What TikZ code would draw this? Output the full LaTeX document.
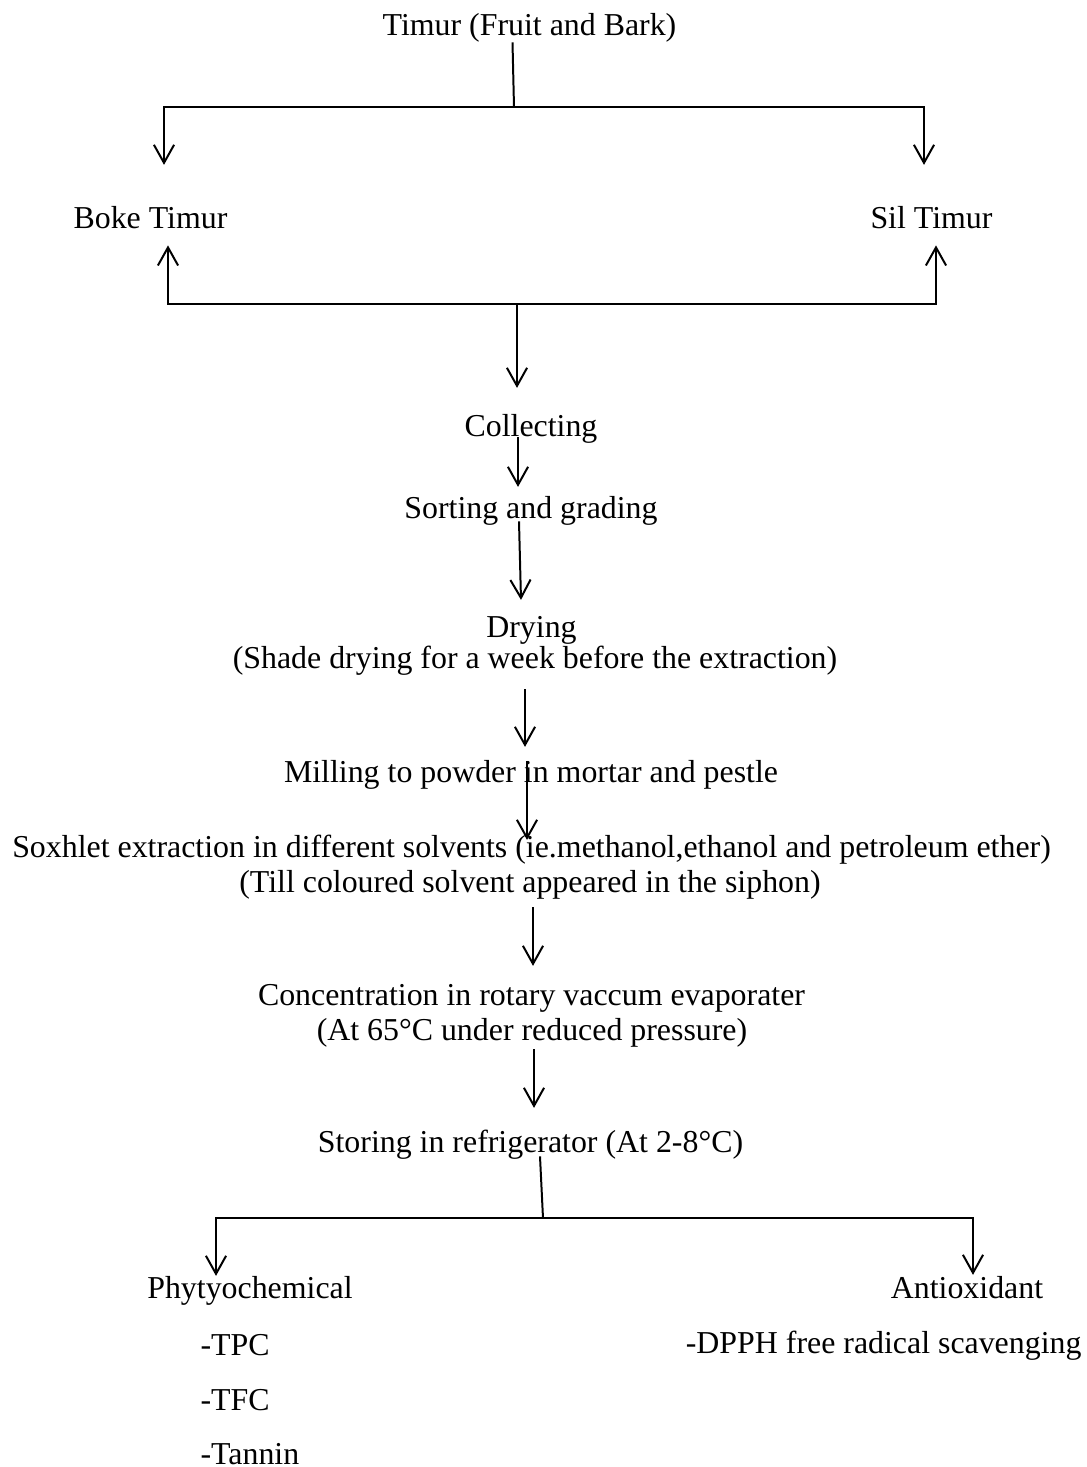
\documentclass[tikz,border=0pt]{standalone}
\usepackage{fontspec}
\setmainfont{Liberation Serif}
\usetikzlibrary{arrows.meta,calc}

\begin{document}
\begin{tikzpicture}[x=0.3765pt,y=-0.3765pt,
  txt/.style={inner sep=0pt,text height=0.7em,text depth=0.22em,anchor=base,font=\fontsize{12}{14}\selectfont},
  flow/.style={line width=0.75pt,-{Straight Barb[length=6.8pt,width=7.6pt]}},
  link/.style={line width=0.75pt}]

\useasboundingbox (0,0) rectangle (1086,1467);

\node [txt] (top) at (529.5,35) {Timur (Fruit and Bark)};
\node [txt] (boke) at (150.5,228) {Boke Timur};
\node [txt] (sil) at (931.5,228) {Sil Timur};
\node [txt] (collect) at (531,436) {Collecting};
\node [txt] (sort) at (531,518) {Sorting and grading};
\node [txt] (dry) at (531.5,637) {Drying};
\node [txt] (shade) at (535,668) {(Shade drying for a week before the extraction)};
\node [txt] (mill) at (531,782) {Milling to powder in mortar and pestle};
\node [txt] (sox) at (531.5,857) {Soxhlet extraction in different solvents (ie.methanol,ethanol and petroleum ether)};
\node [txt] (till) at (530,892) {(Till coloured solvent appeared in the siphon)};
\node [txt] (conc) at (531.5,1005) {Concentration in rotary vaccum evaporater};
\node [txt] (atemp) at (532,1040) {(At 65°C under reduced pressure)};
\node [txt] (store) at (530.5,1152) {Storing in refrigerator (At 2-8°C)};
\node [txt] (phyto) at (250,1298) {Phytyochemical};
\node [txt] (antiox) at (967,1298) {Antioxidant};
\node [txt,anchor=base west] (tpc) at (200,1355) {-TPC};
\node [txt,anchor=base west] (tfc) at (200,1410) {-TFC};
\node [txt,anchor=base west] (tannin) at (200,1464) {-Tannin};
\node [txt,anchor=base east] (dpph) at (1082,1353) {-DPPH free radical scavenging};

% split into the two kinds
\coordinate (j1) at (514,107);
\draw [link] ($(top.south)+(-17,1)$) -- (j1);
\draw [flow] (j1) -| ($(boke.north)+(13.5,-44)$);
\draw [flow] (j1) -| ($(sil.north)+(-7.5,-44)$);

% both kinds join again
\coordinate (j2) at (517,304);
\draw [flow] (j2) -| ($(boke.south)+(17.5,11)$);
\draw [flow] (j2) -| ($(sil.south)+(4.5,11)$);
\draw [flow] (j2) -- ($(collect.north)+(-14,-29)$);

% processing steps
\draw [flow] ($(collect.south)+(-13,-5)$) -- ($(sort.north)+(-13,-12)$);
\draw [flow] ($(sort.south)+(-12,-3)$) -- ($(dry.north)+(-10.5,-18)$);
\draw [flow] ($(shade.south)+(-10,15)$) -- ($(mill.north)+(-6,-16)$);
\draw [flow] ($(mill.south)+(-4,-27)$) -- ($(sox.north)+(-4.5,2)$);
\draw [flow] ($(till.south)+(3,9)$) -- ($(conc.north)+(1.5,-20)$);
\draw [flow] ($(atemp.south)+(2,3)$) -- ($(store.north)+(3.5,-25)$);

% analysis
\coordinate (j3) at (543,1218);
\draw [link] ($(store.south)+(9.5,-2)$) -- (j3);
\draw [flow] (j3) -| ($(phyto.north)+(-34,-3)$);
\draw [flow] (j3) -| ($(antiox.north)+(6,-4)$);

\end{tikzpicture}
\end{document}
